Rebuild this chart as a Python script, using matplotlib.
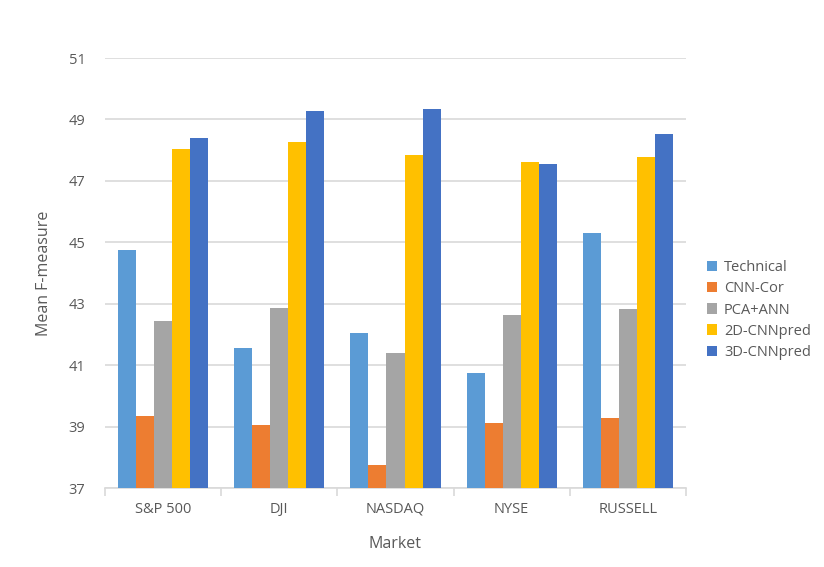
import matplotlib
matplotlib.use("Agg")
import matplotlib.pyplot as plt
import numpy as np
from matplotlib.ticker import FixedLocator, NullFormatter

markets = ["S&P 500", "DJI", "NASDAQ", "NYSE", "RUSSELL"]
series_names = ["Technical", "CNN-Cor", "PCA+ANN", "2D-CNNpred", "3D-CNNpred"]
technical = [44.74, 41.55, 42.04, 40.76, 45.29]
cnn_cor = [39.34, 39.05, 37.75, 39.12, 39.29]
pca_ann = [42.43, 42.87, 41.41, 42.64, 42.84]
cnn2d = [48.03, 48.28, 47.83, 47.63, 47.79]
cnn3d = [48.41, 49.29, 49.35, 47.55, 48.51]
colors = ["#5B9BD5", "#ED7D31", "#A5A5A5", "#FFC000", "#4472C4"]
yticks = [37, 39, 41, 43, 45, 47, 49, 51]

plt.rcParams['font.family'] = ['Open Sans', 'DejaVu Sans']
txt = "#595959"
grid = "#D9D9D9"

fig = plt.figure(figsize=(8.24, 5.67), dpi=100)
ax = fig.add_axes([105/824, 1-488/567, (686-105)/824, (488-58)/567])

data = [technical, cnn_cor, pca_ann, cnn2d, cnn3d]
x = np.arange(len(markets))
bw = 0.155
for i, (vals, c, name) in enumerate(zip(data, colors, series_names)):
    off = (i - 2) * bw
    ax.bar(x + off, np.array(vals) - 37, bottom=37, width=bw, color=c, label=name, zorder=3)

ax.set_xlim(-0.5, len(markets) - 0.5)
ax.set_ylim(37, 51)
ax.set_yticks(yticks)
ax.set_yticklabels([str(v) for v in yticks], color=txt, fontsize=10.5)
ax.tick_params(axis='y', length=0, pad=14)
ax.yaxis.grid(True, color=grid, linewidth=1.2, zorder=0)
ax.set_axisbelow(True)

ax.set_xticks(x)
ax.set_xticklabels(markets, color=txt, fontsize=10.5)
ax.tick_params(axis='x', which='major', length=0, pad=10)
ax.xaxis.set_minor_locator(FixedLocator(np.arange(-0.5, len(markets), 1.0)))
ax.xaxis.set_minor_formatter(NullFormatter())
ax.tick_params(axis='x', which='minor', length=6, color=grid, width=1.2)

for s in ["top", "right", "left"]:
    ax.spines[s].set_visible(False)
ax.spines["bottom"].set_color(grid)
ax.spines["bottom"].set_linewidth(1.2)

ax.set_ylabel("Mean F-measure", color=txt, fontsize=11.5, labelpad=12)
ax.set_xlabel("Market", color=txt, fontsize=11.5, labelpad=14)

leg = fig.legend(loc="center left", bbox_to_anchor=(694/824, 1-310/567), frameon=False,
                 handlelength=0.7, handleheight=0.7, handletextpad=0.45,
                 labelspacing=0.42, fontsize=10.5)
for t in leg.get_texts():
    t.set_color(txt)

fig.savefig("out.png", dpi=100)
